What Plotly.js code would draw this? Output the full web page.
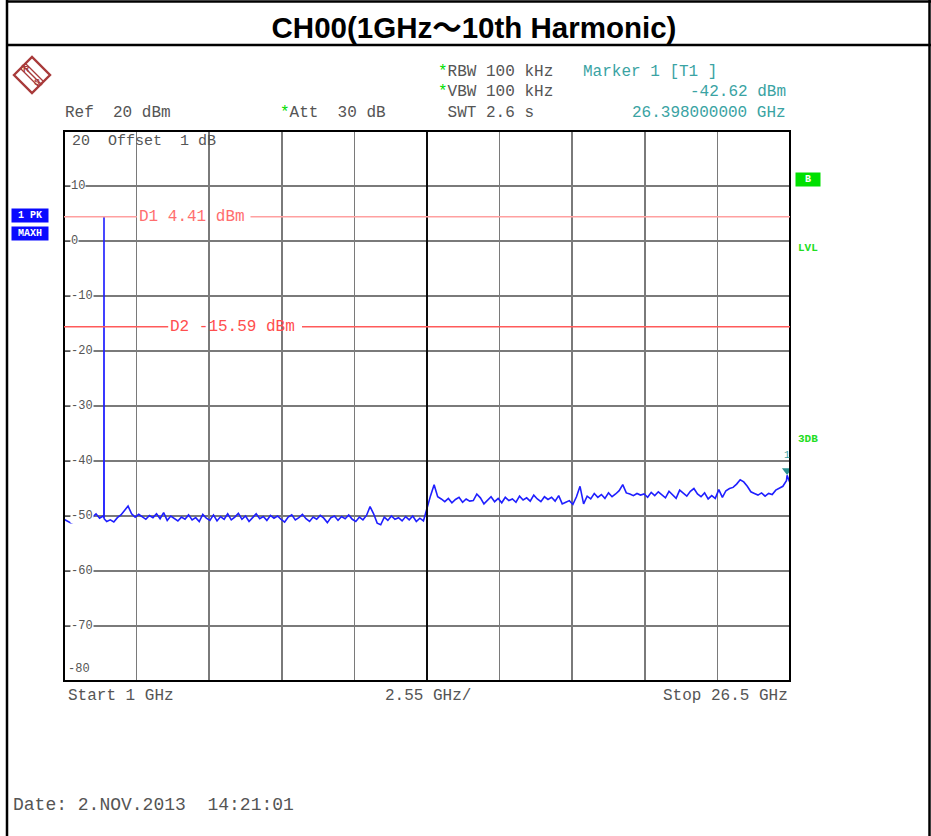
<!DOCTYPE html>
<html>
<head>
<meta charset="utf-8">
<script src="https://cdn.plot.ly/plotly-3.0.1.min.js"></script>
<style>html,body{margin:0;padding:0;background:#fff;}#chart{width:931px;height:836px;}</style>
</head>
<body>
<div id="chart"></div>
<script>
// ---- Data ----
const freqLow = [1.000,1.125,1.250,1.375,1.500,1.625,1.750,1.875,2.000,2.125,2.250,2.375,2.400,2.405,2.410,2.500,2.625,2.750,2.875,3.000,3.125,3.250,3.375,3.500,3.625,3.750,3.875,4.000,4.125,4.250,4.375,4.500,4.625,4.750,4.875,5.000,5.125,5.250,5.375,5.500,5.625,5.750,5.875,6.000,6.125,6.250,6.375,6.500,6.625,6.750,6.875,7.000,7.125,7.250,7.375,7.500,7.625,7.750,7.875,8.000,8.125,8.250,8.375,8.500,8.625,8.750,8.875,9.000,9.125,9.250,9.375,9.500,9.625,9.750,9.875,10.000,10.125,10.250,10.375,10.500,10.625,10.750,10.875,11.000,11.125,11.250,11.375,11.500,11.625,11.750,11.875,12.000,12.125,12.250,12.375,12.500,12.625,12.750,12.875,13.000,13.125,13.250,13.375,13.500,13.625,13.750];
const levelLow = [-50.6,-50.9,-51.3,-51.0,-50.2,-49.5,-49.1,-49.8,-50.2,-49.6,-50.4,-50.0,-50.3,4.41,-50.5,-51.0,-50.7,-51.1,-50.3,-49.8,-49.0,-48.2,-49.6,-50.2,-49.7,-50.1,-50.6,-49.9,-50.3,-49.6,-50.5,-49.4,-50.8,-50.0,-50.4,-50.9,-50.2,-50.6,-49.8,-50.7,-50.3,-51.0,-49.7,-50.4,-50.8,-49.8,-50.9,-50.1,-50.6,-49.6,-50.7,-50.2,-49.5,-50.6,-50.0,-51.0,-50.3,-49.6,-50.5,-50.1,-50.8,-49.9,-50.4,-50.0,-50.6,-51.1,-50.2,-49.8,-50.7,-50.3,-49.7,-50.5,-51.0,-50.2,-50.6,-49.9,-50.4,-51.2,-50.3,-50.0,-50.8,-50.1,-50.5,-49.8,-50.6,-51.0,-50.2,-50.7,-49.9,-48.3,-49.6,-51.3,-51.6,-50.2,-50.8,-50.0,-50.6,-50.3,-50.9,-50.1,-50.7,-50.0,-51.0,-50.4,-50.9,-48.5];
const freqHigh = [13.875,14.000,14.125,14.250,14.375,14.500,14.625,14.750,14.875,15.000,15.125,15.250,15.375,15.500,15.625,15.750,15.875,16.000,16.125,16.250,16.375,16.500,16.625,16.750,16.875,17.000,17.125,17.250,17.375,17.500,17.625,17.750,17.875,18.000,18.125,18.250,18.375,18.500,18.625,18.750,18.875,19.000,19.125,19.250,19.375,19.500,19.625,19.750,19.875,20.000,20.125,20.250,20.375,20.500,20.625,20.750,20.875,21.000,21.125,21.250,21.375,21.500,21.625,21.750,21.875,22.000,22.125,22.250,22.375,22.500,22.625,22.750,22.875,23.000,23.125,23.250,23.375,23.500,23.625,23.750,23.875,24.000,24.125,24.250,24.375,24.500,24.625,24.750,24.875,25.000,25.125,25.250,25.375,25.500,25.625,25.750,25.875,26.000,26.125,26.250,26.375,26.398,26.500];
const levelHigh = [-46.3,-44.3,-46.5,-46.9,-47.4,-46.8,-47.6,-47.0,-46.6,-47.5,-46.9,-47.3,-47.2,-46.0,-46.7,-47.8,-47.1,-46.5,-47.4,-46.8,-47.6,-46.6,-47.2,-46.9,-47.5,-46.4,-47.1,-46.7,-47.3,-46.2,-46.9,-47.4,-46.5,-47.0,-46.6,-47.3,-46.3,-47.8,-47.5,-47.2,-47.9,-46.5,-44.6,-47.8,-46.4,-46.9,-45.9,-46.6,-46.1,-46.8,-45.8,-46.5,-46.0,-45.4,-44.3,-45.8,-46.0,-46.3,-45.9,-46.2,-46.0,-46.6,-45.7,-46.3,-45.6,-46.1,-46.7,-45.5,-46.2,-46.8,-45.3,-45.9,-46.4,-45.5,-45.0,-46.0,-46.5,-45.8,-46.9,-46.3,-46.8,-45.2,-46.6,-45.4,-45.0,-44.8,-44.2,-43.4,-43.8,-44.6,-45.6,-45.9,-46.2,-45.8,-46.4,-45.9,-46.1,-45.3,-44.9,-44.6,-43.6,-42.62,-44.0];

const marker1 = {freq: 26.398, level: -42.62};
const displayLines = [{name: 'D1', level: 4.41, label: 'D1 4.41 dBm'}, {name: 'D2', level: -15.59, label: 'D2 -15.59 dBm'}];
const yTickLabels = ['10','0','-10','-20','-30','-40','-50','-60','-70'];
const yTickValues = [10,0,-10,-20,-30,-40,-50,-60,-70];
const startGHz = 1, stopGHz = 26.5, spanPerDiv = 2.55;
const refLevel = 20, bottomLevel = -80;

// ---- layout helpers (pixel -> paper) ----
const L = 64, R = 790, T = 131, B = 681;
const px = p => (p - L) / (R - L);
const py = p => (B - p) / (B - T);

const mono = 'Liberation Mono, DejaVu Sans Mono, monospace';
const grey = '#555555';
const teal = '#3aa3a3';

const traces = [
  {x: freqLow.concat(freqHigh), y: levelLow.concat(levelHigh), type: 'scatter', mode: 'lines',
   line: {color: '#1f1fff', width: 1.6}, hoverinfo: 'skip'},
  {x: [marker1.freq], y: [marker1.level + 0.9], type: 'scatter', mode: 'markers',
   marker: {symbol: 'triangle-down', size: 9, color: '#2a8f8f'}, hoverinfo: 'skip'}
];

const shapes = [
  // outer page frame
  {type: 'line', xref: 'paper', yref: 'paper', x0: px(7), x1: px(7), y0: py(0), y1: py(836), line: {color: '#000', width: 2.5}},
  {type: 'line', xref: 'paper', yref: 'paper', x0: px(929.5), x1: px(929.5), y0: py(0), y1: py(836), line: {color: '#000', width: 2.5}},
  {type: 'line', xref: 'paper', yref: 'paper', x0: px(7), x1: px(931), y0: py(1.5), y1: py(1.5), line: {color: '#000', width: 2.5}},
  {type: 'line', xref: 'paper', yref: 'paper', x0: px(7), x1: px(931), y0: py(45), y1: py(45), line: {color: '#000', width: 2.5}},
  // center division line
  {type: 'line', xref: 'x', yref: 'paper', x0: startGHz + 5 * spanPerDiv, x1: startGHz + 5 * spanPerDiv, y0: 0, y1: 1, line: {color: '#000', width: 1.8}},
  // plot frame
  {type: 'rect', xref: 'paper', yref: 'paper', x0: 0, x1: 1, y0: 0, y1: 1, line: {color: '#000', width: 2}},
  // R&S logo diamond
  {type: 'path', xref: 'paper', yref: 'paper',
   path: `M ${px(14)} ${py(75)} L ${px(32)} ${py(57)} L ${px(50)} ${py(75)} L ${px(32)} ${py(93)} Z`,
   line: {color: '#a83a3a', width: 2.4}, fillcolor: 'rgba(0,0,0,0)'},
  {type: 'line', xref: 'paper', yref: 'paper', x0: px(22), x1: px(42), y0: py(65), y1: py(85), line: {color: '#a83a3a', width: 1.5}},
  {type: 'line', xref: 'paper', yref: 'paper', x0: px(25), x1: px(43), y0: py(63), y1: py(81), line: {color: '#a83a3a', width: 1.2}},
  {type: 'line', xref: 'paper', yref: 'paper', x0: px(21), x1: px(39), y0: py(69), y1: py(87), line: {color: '#a83a3a', width: 1.2}},
  // D1 line (split around its label)
  {type: 'line', xref: 'x', yref: 'y', x0: startGHz, x1: 3.56, y0: displayLines[0].level, y1: displayLines[0].level, line: {color: '#ffa0a0', width: 1.5}},
  {type: 'line', xref: 'x', yref: 'y', x0: 7.55, x1: stopGHz, y0: displayLines[0].level, y1: displayLines[0].level, line: {color: '#ffa0a0', width: 1.5}},
  // D2 line
  {type: 'line', xref: 'x', yref: 'y', x0: startGHz, x1: 4.66, y0: displayLines[1].level, y1: displayLines[1].level, line: {color: '#ff5a5a', width: 1.5}},
  {type: 'line', xref: 'x', yref: 'y', x0: 9.36, x1: stopGHz, y0: displayLines[1].level, y1: displayLines[1].level, line: {color: '#ff5a5a', width: 1.5}}
];

function txt(text, xp, yp, opts) {
  return Object.assign({text: text, xref: 'paper', yref: 'paper', x: px(xp), y: py(yp), showarrow: false,
    xanchor: 'left', yanchor: 'middle', font: {family: mono, size: 16, color: grey}}, opts || {});
}
const star = '<span style="color:#00dd00">*</span>';

const annotations = [
  txt('Ref  20 dBm', 63, 113),
  txt(star + 'Att  30 dB', 278, 113),
  txt(star + 'RBW 100 kHz', 436, 72),
  txt(star + 'VBW 100 kHz', 436, 92),
  txt(' SWT 2.6 s', 436, 113),
  txt('Marker 1 [T1 ]', 581, 72, {font: {family: mono, size: 16, color: teal}}),
  txt(marker1.level.toFixed(2) + ' dBm', 788, 92, {xanchor: 'right', font: {family: mono, size: 16, color: teal}}),
  txt(marker1.freq.toFixed(9) + ' GHz', 788, 113, {xanchor: 'right', font: {family: mono, size: 16, color: teal}}),
  txt(refLevel + '  Offset  1 dB', 70, 141, {font: {family: mono, size: 15, color: grey}}),
  txt('Start ' + startGHz + ' GHz', 66, 696),
  txt(spanPerDiv + ' GHz/', 383, 696),
  txt('Stop ' + stopGHz + ' GHz', 790, 696, {xanchor: 'right'}),
  txt('Date: 2.NOV.2013  14:21:01', 11, 805, {font: {family: mono, size: 18, color: grey}}),
  txt(String(bottomLevel), 66, 669, {font: {family: mono, size: 12, color: grey}}),
  // R&S letters
  txt('<b>R</b>', 26, 69, {xanchor: 'center', font: {family: 'Liberation Sans', size: 9, color: '#a83a3a'}}),
  txt('<b>S</b>', 37, 82, {xanchor: 'center', font: {family: 'Liberation Sans', size: 9, color: '#a83a3a'}}),
  // blue trace boxes
  txt('<b>1 PK</b>', 30, 215, {xanchor: 'center', bgcolor: '#0a0aff', borderpad: 1, width: 34, font: {family: mono, size: 10, color: '#fff'}}),
  txt('<b>MAXH</b>', 30, 233, {xanchor: 'center', bgcolor: '#0a0aff', borderpad: 1, width: 34, font: {family: mono, size: 10, color: '#fff'}}),
  // green side labels
  txt('<b>B</b>', 808, 179, {xanchor: 'center', bgcolor: '#00e000', width: 22, borderpad: 1, font: {family: mono, size: 10, color: '#fff'}}),
  txt('<b>LVL</b>', 796, 248, {font: {family: mono, size: 11, color: '#22dd22'}}),
  txt('<b>3DB</b>', 796, 439, {font: {family: mono, size: 11, color: '#22dd22'}}),
  // marker number
  {text: '1', xref: 'x', yref: 'paper', x: marker1.freq, y: py(456), showarrow: false, xanchor: 'center', yanchor: 'middle',
   font: {family: mono, size: 10, color: teal}}
];

// y tick labels drawn inside the plot with a white background
yTickValues.forEach((v, i) => {
  annotations.push({text: yTickLabels[i], xref: 'paper', yref: 'y', x: px(70), y: v, showarrow: false,
    xanchor: 'left', yanchor: 'middle', bgcolor: '#fff', borderpad: 0,
    font: {family: mono, size: 12, color: grey}});
});
// display line labels
displayLines.forEach((d, i) => {
  annotations.push({text: d.label, xref: 'x', yref: 'y', x: i === 0 ? 3.56 : 4.66, y: d.level, showarrow: false,
    xanchor: 'left', yanchor: 'middle',
    font: {family: mono, size: 16, color: i === 0 ? '#ff6e6e' : '#ff4e4e'}});
});

const layout = {
  width: 931, height: 836,
  margin: {l: L, r: 931 - R, t: T, b: 836 - B, pad: 0},
  paper_bgcolor: '#fff', plot_bgcolor: '#fff',
  showlegend: false,
  title: {text: '<b>CH00(1GHz～10th Harmonic)</b>', x: 474 / 931, xref: 'container', xanchor: 'center',
    y: 1 - 28 / 836, yref: 'container', yanchor: 'middle',
    font: {family: 'Liberation Sans, Noto Sans CJK SC, sans-serif', size: 29.5, color: '#000'}},
  xaxis: {range: [startGHz, stopGHz], tick0: startGHz, dtick: spanPerDiv, showticklabels: false, ticks: '',
    showgrid: true, gridcolor: '#7a7a7a', gridwidth: 1.5, zeroline: false, showline: false, fixedrange: true},
  yaxis: {range: [bottomLevel, refLevel], tick0: 0, dtick: 10, showticklabels: false,
    ticks: 'inside', ticklen: 6, tickcolor: '#555', tickwidth: 1,
    showgrid: true, gridcolor: '#7a7a7a', gridwidth: 1.5, zeroline: false, showline: false, fixedrange: true},
  shapes: shapes,
  annotations: annotations
};

Plotly.newPlot('chart', traces, layout, {displayModeBar: false, staticPlot: true});
</script>
</body>
</html>
